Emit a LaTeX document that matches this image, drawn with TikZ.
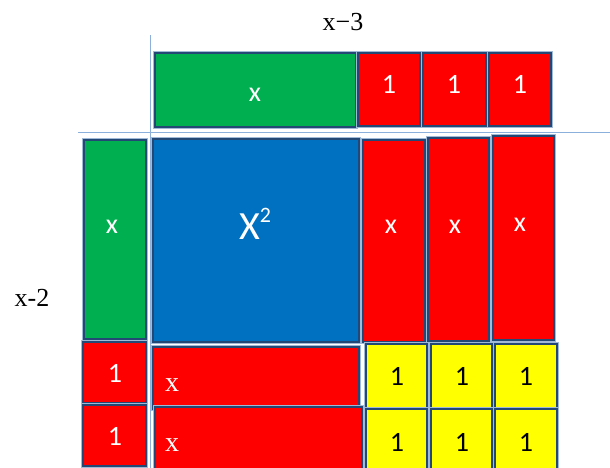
\documentclass[tikz,border=0pt]{standalone}
\usepackage{fontspec}
\setmainfont{Liberation Serif}
\newfontfamily\calib{Carlito}
\definecolor{tgreen}{RGB}{0,176,80}
\definecolor{tred}{RGB}{255,0,0}
\definecolor{tblue}{RGB}{0,112,192}
\definecolor{tyellow}{RGB}{255,255,0}
\definecolor{tborder}{RGB}{36,72,118}
\definecolor{thalo}{RGB}{160,185,215}
\definecolor{axis}{RGB}{140,176,220}
\tikzset{
  tile/.style={draw=tborder, line width=2.7pt,
    preaction={draw=thalo, line width=4.2pt}},
  gtile/.style={tile, fill=tgreen},
  rtile/.style={tile, fill=tred},
  btile/.style={tile, fill=tblue},
  ytile/.style={tile, fill=tyellow},
  wlab/.style={text=white, font=\calib\fontsize{28}{32}\selectfont, inner sep=0pt},
  klab/.style={text=black, font=\calib\fontsize{28}{32}\selectfont, inner sep=0pt},
  slab/.style={text=white, font=\fontsize{28}{32}\selectfont, inner sep=0pt},
  dim/.style={text=black, font=\fontsize{26}{30}\selectfont, inner sep=0pt},
  axisline/.style={draw=axis, line width=1pt}
}
\begin{document}
\begin{tikzpicture}[x=1pt,y=-1pt]
\useasboundingbox (0,0) rectangle (610,468);
% axes
\coordinate (hL) at (78,133); \coordinate (hR) at (610,133);
\coordinate (vT) at (150,35); \coordinate (vB) at (150,468);
\draw[axisline] (hL) -- (hR);
\draw[axisline] (vT) -- (vB);
% top row
\draw[gtile] (155,53) rectangle (356,127);
\draw[rtile] (358,53) rectangle (420,126);
\draw[rtile] (423,53) rectangle (486,126);
\draw[rtile] (489,53) rectangle (551,126);
% left column
\draw[gtile] (84,140) rectangle (146,339);
\draw[rtile] (83,342) rectangle (146,403);
\draw[rtile] (83,405) rectangle (146,466);
% main body
\draw[btile] (153,139) rectangle (359,342);
\draw[rtile] (363,140) rectangle (425,342);
\draw[rtile] (428,138) rectangle (489,341);
\draw[rtile] (493,136) rectangle (554,340);
\draw[rtile] (153,347) rectangle (359,409);
\draw[rtile] (155,407) rectangle (362,474);
\foreach \xa/\xb [count=\i] in {366/427,431/492,495/557}{
  \draw[ytile] (\xa,344) rectangle (\xb,408);
  \draw[ytile] (\xa,409) rectangle (\xb,474);
}
% labels
\node[dim] (lx3) at (343,22) {x\char"2212 3};
\node[dim] (lx2) at (32,298) {x-2};
\node[wlab] (tg) at (255,95) {x};
\node[wlab] (t1a) at (389,84) {1};
\node[wlab] (t1b) at (454,84) {1};
\node[wlab] (t1c) at (520,84) {1};
\node[wlab] (lg) at (112,227) {x};
\node[wlab] (l1a) at (115,373) {1};
\node[wlab] (l1b) at (115,436) {1};
\node[wlab, font=\calib\fontsize{40}{44}\selectfont] (bx) at (255,224) {X\raisebox{0.42em}{\fontsize{22}{22}\selectfont 2}};
\node[wlab] (rx1) at (391,227) {x};
\node[wlab] (rx2) at (455,227) {x};
\node[wlab] (rx3) at (520,225) {x};
\node[slab] (sx1) at (172,385) {x};
\node[slab] (sx2) at (172,445) {x};
\foreach \xc [count=\i] in {397,462,526}{
  \node[klab] (ya\i) at (\xc,376) {1};
  \node[klab] (yb\i) at (\xc,442) {1};
}
\end{tikzpicture}
\end{document}
